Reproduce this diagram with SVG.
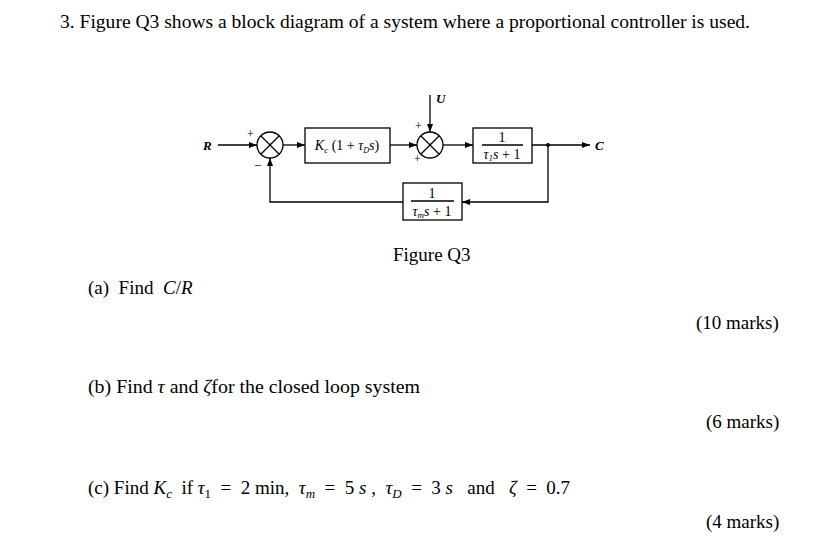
<svg xmlns="http://www.w3.org/2000/svg" width="820" height="549" viewBox="0 0 820 549">
<style>
.t{font-family:"Liberation Serif",serif;font-size:19px;fill:#000}
.i{font-family:"Liberation Serif",serif;font-style:italic;fill:#000}
.s{font-family:"Liberation Serif",serif;fill:#000}
.l{stroke:#000;stroke-width:1.3;fill:none}
.b{stroke:#000;stroke-width:1.3;fill:#fff}
</style>
<defs><marker id="a" markerWidth="8" markerHeight="6" refX="8" refY="3" orient="auto" markerUnits="userSpaceOnUse"><path d="M0,0L8,3L0,6z" fill="#000"/></marker></defs>
<rect width="820" height="549" fill="#fff"/>
<text class="t" x="60" y="28" textLength="690" lengthAdjust="spacingAndGlyphs">3.   Figure Q3 shows a block diagram of a system where a proportional controller is used.</text>
<g id="connectors" class="l">
<path d="M218,145H257" marker-end="url(#a)"/>
<path d="M283,145H305" marker-end="url(#a)"/>
<path d="M390,145H417" marker-end="url(#a)"/>
<path d="M430,95V132" marker-end="url(#a)"/>
<path d="M443,145H473" marker-end="url(#a)"/>
<path d="M532,145H590" marker-end="url(#a)"/>
<path d="M548,145V202H462" marker-end="url(#a)"/>
<path d="M403,202H270V158" marker-end="url(#a)"/>
</g>
<circle cx="548" cy="145" r="2" fill="#000"/>
<g id="sum1"><circle class="b" cx="270" cy="145" r="13"/><path class="l" d="M261,136L279,154M279,136L261,154"/>
<text class="s" x="247" y="138" font-size="12">+</text><text class="s" x="254" y="170" font-size="13">−</text></g>
<g id="sum2"><circle class="b" cx="430" cy="145" r="13"/><path class="l" d="M421,136L439,154M439,136L421,154"/>
<text class="s" x="415" y="130" font-size="12">+</text><text class="s" x="414" y="163" font-size="12">+</text></g>
<g id="block1"><rect class="b" x="305" y="128" width="85" height="35"/><text class="i" x="347" y="150" font-size="14" text-anchor="middle">K<tspan font-size="9" dy="3">c</tspan><tspan dy="-3" font-style="normal"> (1 + </tspan>τ<tspan font-size="8" dy="3">D</tspan><tspan dy="-3">s</tspan><tspan font-style="normal">)</tspan></text></g>
<g id="block2"><rect class="b" x="473" y="128" width="59" height="35"/><text class="s" x="502" y="142" font-size="14" text-anchor="middle">1</text><path class="l" d="M482,145H523"/><text class="i" x="502" y="159" font-size="14" text-anchor="middle">τ<tspan font-size="9" dy="2">1</tspan><tspan dy="-2">s</tspan><tspan font-style="normal"> + 1</tspan></text></g>
<g id="block3"><rect class="b" x="403" y="183" width="59" height="37"/><text class="s" x="432" y="198" font-size="14" text-anchor="middle">1</text><path class="l" d="M411,201H454"/><text class="i" x="432" y="216" font-size="14" text-anchor="middle">τ<tspan font-size="9" dy="2">m</tspan><tspan dy="-2">s</tspan><tspan font-style="normal"> + 1</tspan></text></g>
<g id="labels">
<text class="i" x="203" y="150" font-size="13" font-weight="bold">R</text>
<text class="i" x="436" y="103" font-size="13" font-weight="bold">U</text>
<text class="i" x="595" y="150" font-size="13" font-weight="bold">C</text>
</g>
<text class="t" x="393" y="261">Figure Q3</text>
<text class="t" x="88" y="294" xml:space="preserve">(a)  Find  <tspan font-style="italic">C</tspan>/<tspan font-style="italic">R</tspan></text>
<text class="t" x="696" y="329">(10 marks)</text>
<text class="t" x="88" y="393" textLength="332" lengthAdjust="spacingAndGlyphs">(b) Find <tspan font-style="italic">τ</tspan> and <tspan font-style="italic">ζ</tspan>for the closed loop system</text>
<text class="t" x="706" y="428">(6 marks)</text>
<text class="t" x="88" y="494" xml:space="preserve">(c) Find <tspan font-style="italic">K<tspan font-size="13" dy="4">c</tspan></tspan><tspan dy="-4">  if </tspan><tspan font-style="italic">τ</tspan><tspan font-size="13" dy="4">1</tspan><tspan dy="-4">  =  2 min,  </tspan><tspan font-style="italic">τ<tspan font-size="13" dy="4">m</tspan></tspan><tspan dy="-4">  =  5 </tspan><tspan font-style="italic">s</tspan> ,  <tspan font-style="italic">τ<tspan font-size="13" dy="4">D</tspan></tspan><tspan dy="-4">  =  3 </tspan><tspan font-style="italic">s</tspan>   and   <tspan font-style="italic">ζ</tspan>  =  0.7</text>
<text class="t" x="706" y="528">(4 marks)</text>
</svg>
